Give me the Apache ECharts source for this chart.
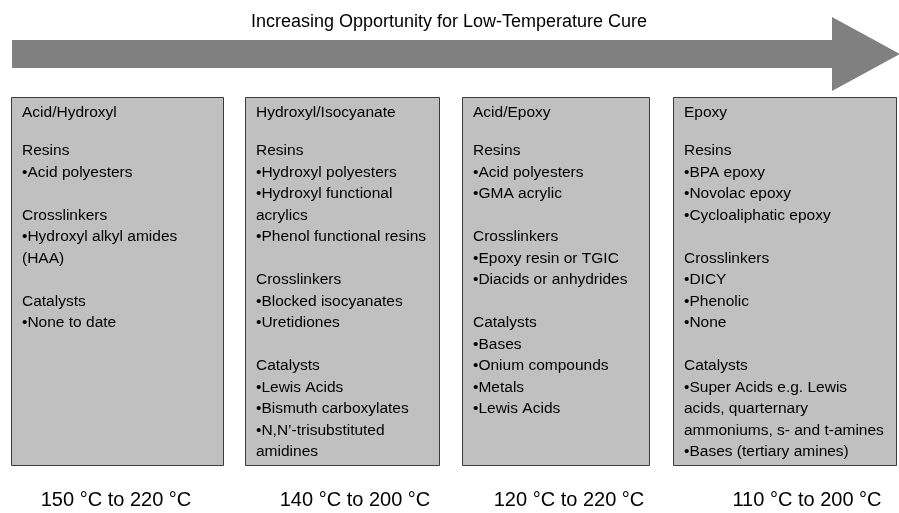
<!DOCTYPE html>
<html>
<head>
<meta charset="utf-8">
<script src="https://cdn.jsdelivr.net/npm/echarts@6/dist/echarts.min.js"></script>
<style>html,body{margin:0;padding:0;background:#fff;}#c{width:899px;height:513px;}</style>
</head>
<body>
<div id="c"></div>
<script>
// ---- data ----
const arrowTitle = "Increasing Opportunity for Low-Temperature Cure";
const chemistries = ["Acid/Hydroxyl", "Hydroxyl/Isocyanate", "Acid/Epoxy", "Epoxy"];
const sectionNames = ["Resins", "Crosslinkers", "Catalysts"];
const resins = [
  ["•Acid polyesters"],
  ["•Hydroxyl polyesters", "•Hydroxyl functional\nacrylics", "•Phenol functional resins"],
  ["•Acid polyesters", "•GMA acrylic"],
  ["•BPA epoxy", "•Novolac epoxy", "•Cycloaliphatic epoxy"]
];
const crosslinkers = [
  ["•Hydroxyl alkyl amides\n(HAA)"],
  ["•Blocked isocyanates", "•Uretidiones"],
  ["•Epoxy resin or TGIC", "•Diacids or anhydrides"],
  ["•DICY", "•Phenolic", "•None"]
];
const catalysts = [
  ["•None to date"],
  ["•Lewis Acids", "•Bismuth carboxylates", "•N,N’-trisubstituted\namidines"],
  ["•Bases", "•Onium compounds", "•Metals", "•Lewis Acids"],
  ["•Super Acids e.g. Lewis\nacids, quarternary\nammoniums, s- and t-amines", "•Bases (tertiary amines)"]
];
const cureRanges = ["150 °C to 220 °C", "140 °C to 200 °C", "120 °C to 220 °C", "110 °C to 200 °C"];

// ---- layout ----
const FONT = "'Liberation Sans', Arial, sans-serif";
const boxLeft = [11, 245, 462, 673];
const boxRight = [223, 439, 649, 896];
const labelCenter = [116, 355, 569, 807];
const boxTop = 97, boxBottom = 465;
const lineH = 21.5;

const chart = echarts.init(document.getElementById('c'), null, {renderer: 'canvas'});
const g = [];

// arrow
g.push({
  type: 'polygon',
  shape: {points: [[12,40],[832,40],[832,17],[900,54],[832,91],[832,68],[12,68]]},
  style: {fill: '#808080'}
});
g.push({
  type: 'text', x: 449, y: 22,
  style: {text: arrowTitle, font: '18px ' + FONT, fill: '#000', align: 'center', verticalAlign: 'middle'}
});

chemistries.forEach((name, i) => {
  const x0 = boxLeft[i], x1 = boxRight[i];
  g.push({
    type: 'rect',
    shape: {x: x0 + 0.5, y: boxTop + 0.5, width: x1 - x0, height: boxBottom - boxTop},
    style: {fill: '#c0c0c0', stroke: '#3a3a3a', lineWidth: 1}
  });
  const lines = [];
  lines.push({t: name, y: 113});
  let y = 151;
  const groups = [resins[i], crosslinkers[i], catalysts[i]];
  groups.forEach((items, k) => {
    lines.push({t: sectionNames[k], y: y});
    y += lineH;
    items.forEach(it => {
      it.split('\n').forEach(part => {
        lines.push({t: part, y: y});
        y += lineH;
      });
    });
    y += lineH;
  });
  lines.forEach(l => {
    g.push({
      type: 'text', x: x0 + 11, y: l.y,
      style: {text: l.t, font: '15.5px ' + FONT, fill: '#000', align: 'left', verticalAlign: 'middle'}
    });
  });
  g.push({
    type: 'text', x: labelCenter[i], y: 500,
    style: {text: cureRanges[i], font: '20px ' + FONT, fill: '#000', align: 'center', verticalAlign: 'middle'}
  });
});

chart.setOption({animation: false, graphic: {elements: g}});
</script>
</body>
</html>
